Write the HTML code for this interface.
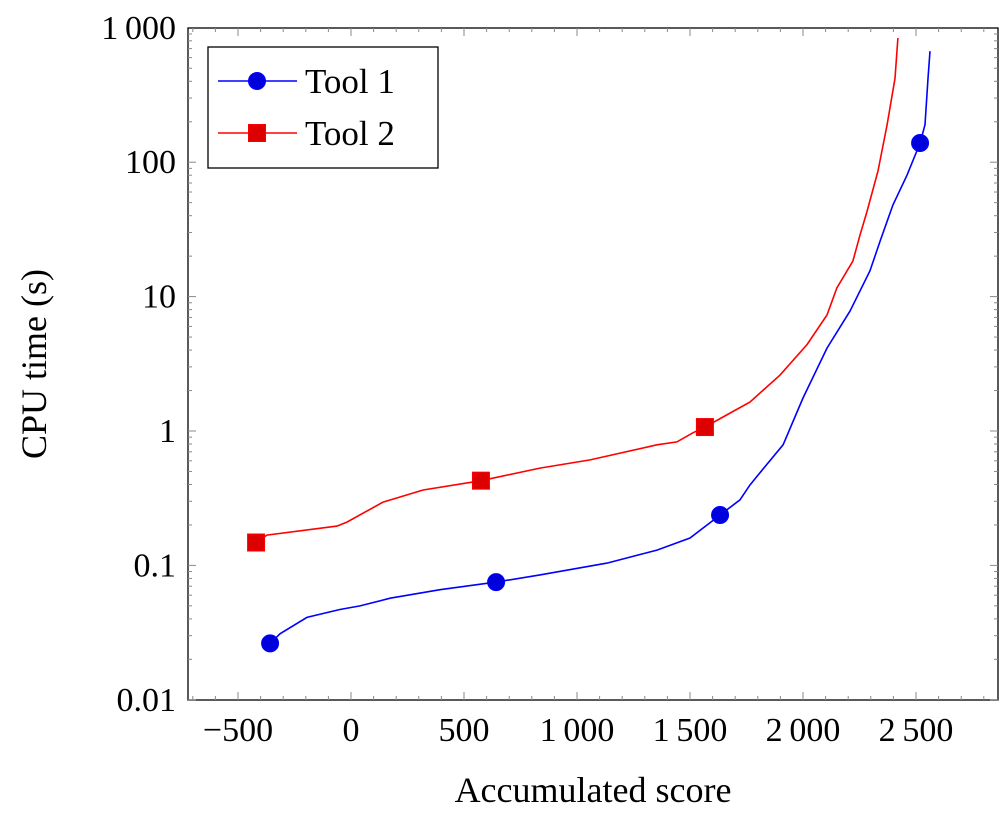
<!DOCTYPE html>
<html><head><meta charset="utf-8"><style>
body{margin:0;background:#fff;width:999px;height:816px;overflow:hidden}
text{font-family:"Liberation Serif",serif;fill:#000}
</style></head><body>
<svg id="chart" width="999" height="816" xmlns="http://www.w3.org/2000/svg"></svg>
<script>
const xTicks=[-500,0,500,1000,1500,2000,2500];
const xTickLabels=["\u2212500","0","500","1\u2009000","1\u2009500","2\u2009000","2\u2009500"];
const yTicks=[0.01,0.1,1,10,100,1000];
const yTickLabels=["0.01","0.1","1","10","100","1\u2009000"];
const tool1X=[-358,-314,-195,-49,40,173,394,642,836,1133,1354,1500,1633,1721,1765,1801,1912,2000,2106,2208,2296,2341,2398,2460,2518,2540,2553,2562];
const tool1Y=[0.0263,0.031,0.041,0.047,0.05,0.057,0.066,0.0751,0.085,0.104,0.13,0.16,0.237,0.307,0.396,0.47,0.79,1.76,4.14,7.8,15.5,25.9,48,80,139,190,420,670];
const tool2X=[-420,-372,-62,-18,142,319,575,836,1058,1354,1442,1513,1566,1646,1765,1898,2018,2106,2150,2221,2252,2283,2332,2372,2407,2420];
const tool2Y=[0.148,0.168,0.196,0.21,0.296,0.364,0.427,0.53,0.61,0.79,0.83,0.97,1.07,1.27,1.64,2.6,4.4,7.3,11.6,18.4,28.7,43,86,190,420,840];
const tool1MarkX=[-358,642,1633,2518];
const tool1MarkY=[0.0263,0.0751,0.237,139];
const tool2MarkX=[-420,575,1566];
const tool2MarkY=[0.148,0.427,1.07];

const L=188,R=998,T=28,B=700;
const sx=v=>351+v*0.226;
const sy=v=>431-Math.log10(v)*134.4;
const svg=document.getElementById('chart');
const NS="http://www.w3.org/2000/svg";
function mk(tag,attrs,parent){const e=document.createElementNS(NS,tag);for(const k in attrs)e.setAttribute(k,attrs[k]);(parent||svg).appendChild(e);return e;}

const frame=mk('rect',{x:L,y:T,width:R-L,height:B-T,fill:'none',stroke:'#000','stroke-width':1.3});



for(let v=-700;v<=2900;v+=100){const x=sx(v);if(x<L||x>R)continue;const major=v%500===0;const len=major?8:4;
mk('line',{x1:x,x2:x,y1:B,y2:B-len,stroke:'#888','stroke-width':1});mk('line',{x1:x,x2:x,y1:T,y2:T+len,stroke:'#888','stroke-width':1});}
xTicks.forEach((v,i)=>{const t=mk('text',{x:sx(v),y:741,'font-size':34,'text-anchor':'middle'});t.textContent=xTickLabels[i];

});
for(let d=-2;d<3;d++){for(let m=1;m<10;m++){const v=m*Math.pow(10,d);const y=sy(v);const len=m===1?8:4;
mk('line',{x1:L,x2:L+len,y1:y,y2:y,stroke:'#888','stroke-width':1});mk('line',{x1:R,x2:R-len,y1:y,y2:y,stroke:'#888','stroke-width':1});}}
yTicks.forEach((v,i)=>{const t=mk('text',{x:176,y:sy(v)+11,'font-size':34,'text-anchor':'end'});t.textContent=yTickLabels[i];

});

const xt=mk('text',{x:593,y:802,'font-size':36,'text-anchor':'middle'});xt.textContent='Accumulated score';


const yt=mk('text',{x:0,y:0,'font-size':36,'text-anchor':'middle',transform:'translate(46,364) rotate(-90)'});yt.textContent='CPU time (s)';



function line(xs,ys,color,name){const d=xs.map((x,i)=>(i?'L':'M')+sx(x).toFixed(1)+','+sy(ys[i]).toFixed(1)).join('');
const p=mk('path',{d:d,fill:'none',stroke:color,'stroke-width':1.6});

}
line(tool1X,tool1Y,'#0000ff','tool-1-line');
line(tool2X,tool2Y,'#ff0000','tool-2-line');
tool1MarkX.forEach((x,i)=>{const c=mk('circle',{cx:sx(x),cy:sy(tool1MarkY[i]),r:8.5,fill:'#0000dd',stroke:'#0000ff'});

});
tool2MarkX.forEach((x,i)=>{const r=mk('rect',{x:sx(x)-8.5,y:sy(tool2MarkY[i])-8.5,width:17,height:17,fill:'#dd0000',stroke:'#ff0000'});

});

const lg=mk('g',{});


mk('rect',{x:208,y:47,width:230,height:121,fill:'#fff',stroke:'#000','stroke-width':1.3},lg);
mk('line',{x1:218,x2:297,y1:81,y2:81,stroke:'#0000ff','stroke-width':1.6},lg);
mk('circle',{cx:257,cy:81,r:8.5,fill:'#0000dd',stroke:'#0000ff'},lg);
const l1=mk('text',{x:305,y:93,'font-size':35},lg);l1.textContent='Tool 1';


mk('line',{x1:218,x2:297,y1:133,y2:133,stroke:'#ff0000','stroke-width':1.6},lg);
mk('rect',{x:248.5,y:124.5,width:17,height:17,fill:'#dd0000',stroke:'#ff0000'},lg);
const l2=mk('text',{x:305,y:145,'font-size':35},lg);l2.textContent='Tool 2';


</script>
</body></html>
